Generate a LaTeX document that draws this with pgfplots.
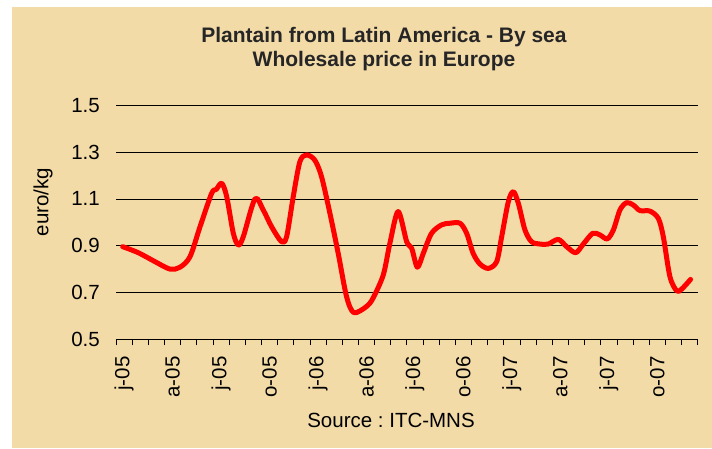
\documentclass[border=0pt]{standalone}
\usepackage{pgfplots}
\pgfplotsset{compat=1.18}
\usepackage{fontspec}
\setmainfont{Liberation Sans}
\frenchspacing
\definecolor{bgbeige}{RGB}{243,219,168}
\definecolor{linered}{RGB}{255,0,0}
\begin{document}
\begin{tikzpicture}
\useasboundingbox (0,0) rectangle (712pt,448pt);
\fill[white] (0,0) rectangle (712pt,448pt);
\fill[bgbeige] (12pt,0) rectangle (712pt,441pt);
\begin{axis}[
  at={(116pt,108.7pt)}, anchor=south west,
  scale only axis, width=581.7pt, height=234pt,
  xmin=0, xmax=36, ymin=0.5, ymax=1.5,
  axis x line*=bottom, axis y line*=left,
  y axis line style={draw=none},
  x axis line style={black, line width=0.8pt},
  ytick={0.5,0.7,0.9,1.1,1.3,1.5},
  yticklabels={0.5,0.7,0.9,1.1,1.3,1.5},
  ytick style={draw=none},
  ymajorgrids, major grid style={black, line width=0.8pt},
  xtick={0.5,3.5,6.5,9.5,12.5,15.5,18.5,21.5,24.5,27.5,30.5,33.5},
  xticklabels={j-05,a-05,j-05,o-05,j-06,a-06,j-06,o-06,j-07,a-07,j-07,o-07},
  minor xtick={0,1,...,36},
  tick align=outside,
  major tick length=0pt,
  major x tick style={draw=none},
  minor tick length=6pt,
  minor x tick style={black, line width=0.8pt},
  xticklabel style={yshift=-17pt, rotate=90, anchor=east, inner sep=0pt, font=\fontsize{20.5}{24}\selectfont},
  yticklabel style={font=\fontsize{20.5}{24}\selectfont, anchor=east, inner sep=0pt, xshift=-16pt},
  clip=false,
]
\addplot[linered, line width=5pt, line cap=round, line join=round, smooth, tension=0.5] coordinates {
(0.41,0.896) (1.38,0.870) (2.41,0.832) (3.34,0.800) (3.96,0.808) (4.58,0.853)
(5.2,0.981) (5.92,1.124) (6.2,1.14) (6.54,1.167) (6.85,1.11) (7.26,0.953) (7.57,0.903)
(7.88,0.939) (8.6,1.10) (9.11,1.053) (9.63,0.981) (10.25,0.917) (10.56,0.939)
(10.97,1.11) (11.38,1.259) (11.79,1.288) (12.3,1.266) (12.72,1.195) (13.24,1.038)
(13.75,0.868) (14.27,0.682) (14.72,0.614) (15.5,0.640) (15.9,0.675) (16.54,0.775)
(16.95,0.91) (17.46,1.046) (17.99,0.917) (18.3,0.889) (18.65,0.808) (19.02,0.868)
(19.53,0.953) (20.15,0.989) (20.67,0.996) (21.29,0.996) (21.7,0.953) (22.1,0.868)
(22.52,0.822) (23.04,0.803) (23.56,0.832) (23.87,0.939) (24.28,1.088) (24.59,1.131)
(24.9,1.081) (25.31,0.967) (25.72,0.917) (26.24,0.907) (26.75,0.907) (27.37,0.927)
(27.89,0.896) (28.45,0.870) (28.92,0.907) (29.5,0.953) (29.95,0.946) (30.4,0.929)
(30.78,0.967) (31.19,1.053) (31.6,1.084) (32.01,1.074) (32.43,1.05) (33.04,1.048)
(33.56,1.017) (33.87,0.939) (34.28,0.768) (34.7,0.707) (35.0,0.714) (35.56,0.756)
};
\end{axis}
\node[font=\bfseries\fontsize{21}{25}\selectfont, text=black!85] at (384pt,411pt) {Plantain from Latin America - By sea};
\node[font=\bfseries\fontsize{21}{25}\selectfont, text=black!85] at (384pt,387pt) {Wholesale price in Europe};
\node[font=\fontsize{20.5}{24}\selectfont, rotate=90] at (43pt,246pt) {euro/kg};
\node[font=\fontsize{20.5}{24}\selectfont] at (391pt,28pt) {Source : ITC-MNS};
\end{tikzpicture}
\end{document}
